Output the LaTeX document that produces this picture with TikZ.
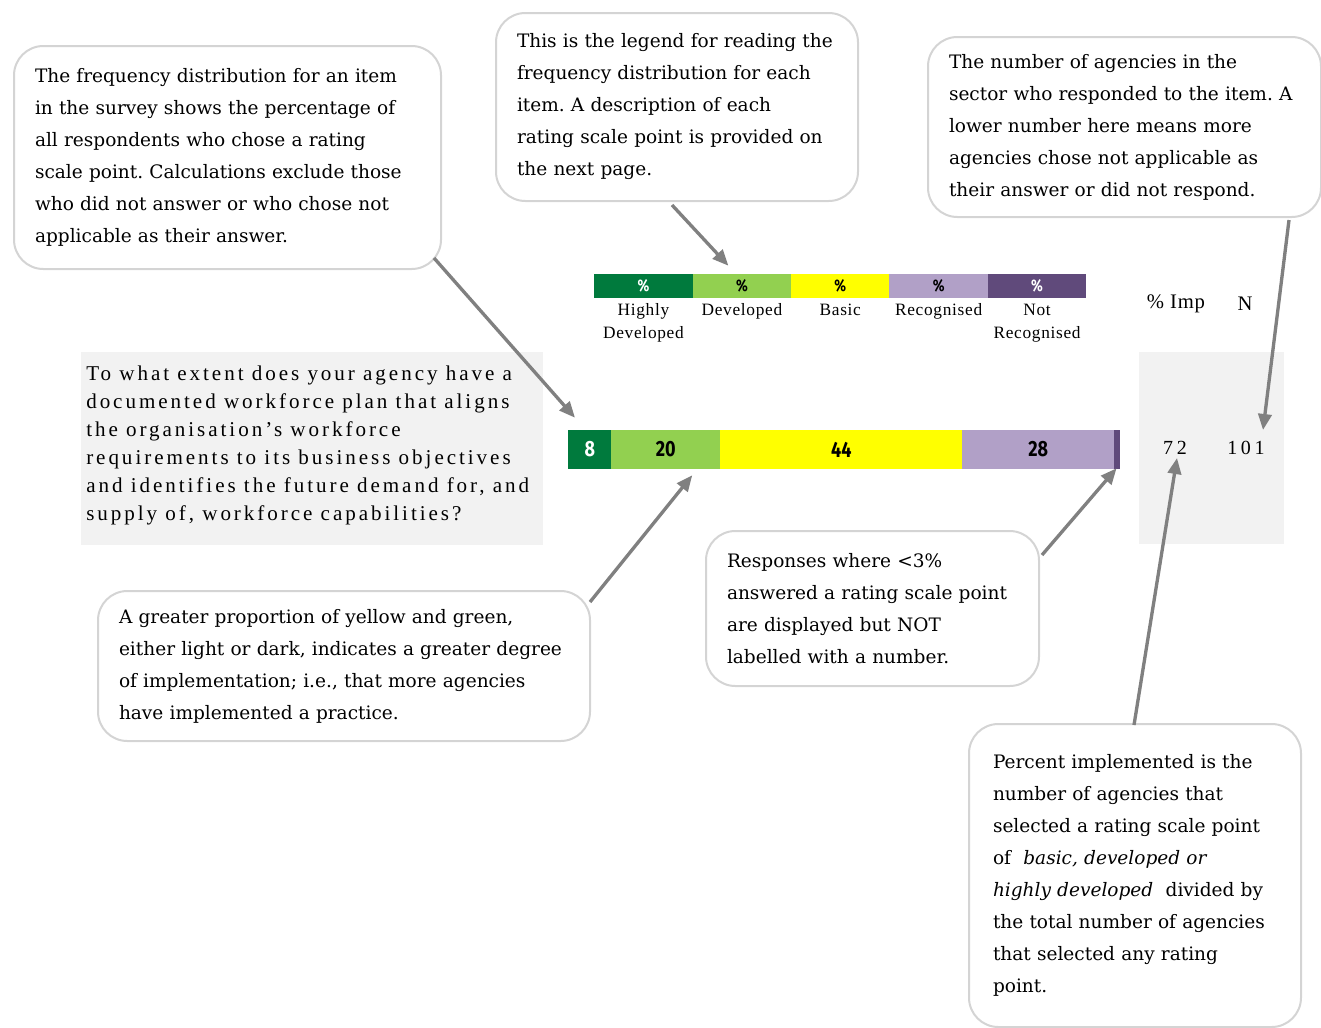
\documentclass[tikz,border=0pt]{standalone}
\usepackage{fontspec}
\setmainfont{DejaVu Serif}
\newfontfamily\itemfont[LetterSpace=14]{Liberation Serif}
\newfontfamily\legendfont[LetterSpace=4]{Liberation Serif}
\newfontfamily\valuefont[LetterSpace=18]{Liberation Serif}
\newfontfamily\barfont[FakeStretch=0.82]{Fira Sans}
\usetikzlibrary{arrows.meta,positioning}
\frenchspacing

\definecolor{hdev}{HTML}{007A3D}
\definecolor{dev}{HTML}{92D050}
\definecolor{basic}{HTML}{FFFF00}
\definecolor{recog}{HTML}{B1A0C7}
\definecolor{notrec}{HTML}{604A7B}
\definecolor{boxline}{HTML}{D4D4D4}
\definecolor{pointer}{HTML}{808080}
\definecolor{panel}{HTML}{F2F2F2}

\begin{document}
\begin{tikzpicture}
    [x=0.75pt, y=-0.75pt,
    % STYLES
    % The callout style is used for the rounded explanation boxes
    callout/.style={rectangle, draw=boxline, line width=1.5pt, rounded corners=22pt, fill=white, anchor=north west, align=left, inner xsep=15.75pt, inner ysep=0pt, font=\fontsize{13.9}{24}\selectfont},
    % The seg style is used for the coloured parts of the bars
    seg/.style={rectangle, inner sep=0pt, anchor=west},
    % The pointer style is used for the grey arrows
    pointer/.style={color=pointer, line width=2.5pt, -{Triangle[length=12pt,width=10pt]}}]

    \useasboundingbox (0,0) rectangle (1321,1028);

    % Draw callouts
    \node [callout, text width=288.75pt, minimum height=167.25pt] (freq) at (13,45) {
    The frequency distribution for an item\\
    in the survey shows the percentage of\\
    all respondents who chose a rating\\
    scale point. Calculations exclude those\\
    who did not answer or who chose not\\
    applicable as their answer.
    };
    \node [callout, text width=240pt, minimum height=141pt] (legend) at (495,12) {
    This is the legend for reading the\\
    frequency distribution for each\\
    item. A description of each\\
    rating scale point is provided on\\
    the next page.
    };
    \node [callout, text width=263.25pt, minimum height=135pt] (count) at (927,36) {
    The number of agencies in the\\
    sector who responded to the item. A\\
    lower number here means more\\
    agencies chose not applicable as\\
    their answer or did not respond.
    };
    \node [callout, text width=337.5pt, minimum height=112.5pt] (greater) at (97,590) {
    A greater proportion of yellow and green,\\
    either light or dark, indicates a greater degree\\
    of implementation; i.e., that more agencies\\
    have implemented a practice.
    };
    \node [callout, text width=218.25pt, minimum height=116.25pt] (small) at (705,530) {
    Responses where <3\%\\
    answered a rating scale point\\
    are displayed but NOT\\
    labelled with a number.
    };
    \node [callout, text width=213pt, inner xsep=18pt, minimum height=227.25pt] (pct) at (968,723) {
    Percent implemented is the\\
    number of agencies that\\
    selected a rating scale point\\
    of \ \textit{basic, developed or}\\
    \textit{highly developed} \ divided by\\
    the total number of agencies\\
    that selected any rating\\
    point.
    };

    % Legend
    \foreach \nm/\c/\tc/\lab [count=\i from 0] in {hd/hdev/white/{Highly\\Developed}, dv/dev/black/Developed, bs/basic/black/Basic, rc/recog/black/Recognised, nr/notrec/white/{Not\\Recognised}}
    {
    \node [seg, fill=\c, text=\tc, minimum width=73.8pt, minimum height=18pt, font=\barfont\bfseries\fontsize{12.5}{12.5}\selectfont] (leg\nm) at ({594+98.4*\i},286) {\%};
    \node [below=4pt of leg\nm, align=center, inner sep=0pt, font=\legendfont\fontsize{13}{17.25}\selectfont] (lab\nm) {\lab};
    }
    \node [font=\legendfont\fontsize{15.5}{15.5}\selectfont] (imp) at (1176,304) {\% Imp};
    \node [font=\legendfont\fontsize{15.5}{15.5}\selectfont] (ncol) at (1245,304) {N};

    % Item and bar
    \node [fill=panel, anchor=north west, minimum width=346.5pt, minimum height=144.75pt, inner sep=0pt] (item) at (81,352) {};
    \node [anchor=north west, align=left, inner sep=0pt, font=\itemfont\fontsize{15.8}{21}\selectfont] (itemtext) at (86,366) {
    To what extent does your agency have a\\
    documented workforce plan that aligns\\
    the organisation’s workforce\\
    requirements to its business objectives\\
    and identifies the future demand for, and\\
    supply of, workforce capabilities?
    };
    \foreach \nm/\a/\b/\c/\tc/\v in {hd/568/611/hdev/white/8, dv/611/720/dev/black/20, bs/720/962/basic/black/44, rc/962/1114/recog/black/28, nr/1114/1120/notrec/white/{}}
    \node [seg, fill=\c, text=\tc, minimum width={(\b-\a)*0.75pt}, minimum height=29.25pt, font=\barfont\bfseries\fontsize{16.5}{16.5}\selectfont] (bar\nm) at (\a,449.5) {\v};

    \node [fill=panel, anchor=north west, minimum width=108.75pt, minimum height=144pt, inner sep=0pt] (stats) at (1139,352) {};
    \node [font=\valuefont\fontsize{15}{15}\selectfont] (imp72) at (1175,448) {72};
    \node [font=\valuefont\fontsize{15}{15}\selectfont] (n101) at (1246,448) {101};

    % Pointers
    \path [pointer]
    ([shift={(-8,-12)}]freq.south east) edge ([shift={(7,-12)}]barhd.north west)
    ([shift={(177,3)}]legend.south west) edge ([shift={(36,-8)}]legdv.north west)
    ([shift={(-33,2)}]count.south east) edge ([shift={(17,-18)}]n101.center)
    ([shift={(-1,12)}]greater.north east) edge ([shift={(26.5,6)}]bardv.south)
    ([shift={(2,25)}]small.north east) edge ([shift={(-4,-1)}]barnr.south east)
    ([shift={(-1,2)}]pct.north) edge ([shift={(2,10)}]imp72.center);
\end{tikzpicture}
\end{document}
